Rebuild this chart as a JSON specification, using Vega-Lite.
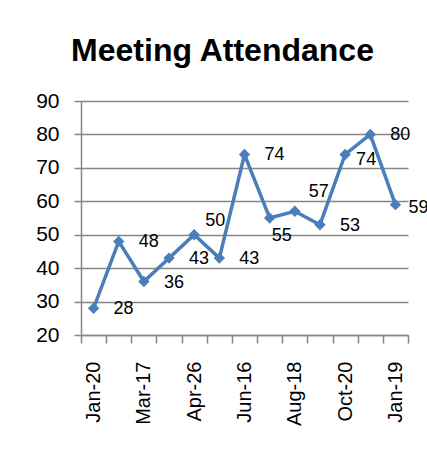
{
  "$schema": "https://vega.github.io/schema/vega-lite/v6.json",
  "autosize": "none",
  "width": 327,
  "height": 234,
  "padding": {"left": 81, "top": 101, "right": 19, "bottom": 114},
  "background": "white",
  "config": {
    "view": {"stroke": null},
    "font": "Liberation Sans"
  },
  "title": {
    "text": "Meeting Attendance",
    "font": "Liberation Sans",
    "fontSize": 32,
    "fontWeight": "bold",
    "color": "#000000",
    "anchor": "middle",
    "frame": "group",
    "dx": -22,
    "offset": -3,
    "baseline": "alphabetic"
  },
  "data": {
    "values": [
      {"date": "Jan-20", "attendance": 28},
      {"date": "Feb-17", "attendance": 48},
      {"date": "Mar-17", "attendance": 36},
      {"date": "Apr-07", "attendance": 43},
      {"date": "Apr-26", "attendance": 50},
      {"date": "May-19", "attendance": 43},
      {"date": "Jun-16", "attendance": 74},
      {"date": "Jul-21", "attendance": 55},
      {"date": "Aug-18", "attendance": 57},
      {"date": "Sep-22", "attendance": 53},
      {"date": "Oct-20", "attendance": 74},
      {"date": "Nov-17", "attendance": 80},
      {"date": "Jan-19", "attendance": 59}
    ]
  },
  "encoding": {
    "x": {
      "field": "date",
      "type": "ordinal",
      "sort": null,
      "bandPosition": 0.5,
      "scale": {"type": "band", "paddingInner": 0, "paddingOuter": 0},
      "axis": {
        "title": null,
        "tickBand": "extent",
        "labelAngle": -90,
        "labelAlign": "right",
        "labelBaseline": "middle",
        "labelFont": "Liberation Sans",
        "labelFontSize": 20,
        "labelColor": "#000000",
        "labelPadding": 18,
        "labelExpr": "indexof(['Jan-20','Mar-17','Apr-26','Jun-16','Aug-18','Oct-20','Jan-19'], datum.value) >= 0 ? datum.value : ''",
        "labelOverlap": false,
        "domainColor": "#868686",
        "domainWidth": 1.5,
        "tickColor": "#868686",
        "tickWidth": 1.5,
        "tickSize": 8,
        "grid": false
      }
    },
    "y": {
      "field": "attendance",
      "type": "quantitative",
      "scale": {"domain": [20, 90], "nice": false, "zero": false},
      "axis": {
        "title": null,
        "values": [20, 30, 40, 50, 60, 70, 80, 90],
        "labelFont": "Liberation Sans",
        "labelFontSize": 21,
        "labelColor": "#000000",
        "labelPadding": 15,
        "domainColor": "#868686",
        "domainWidth": 1.5,
        "tickColor": "#868686",
        "tickWidth": 1.5,
        "tickSize": 7,
        "grid": true,
        "gridColor": "#868686",
        "gridWidth": 1.5
      }
    }
  },
  "layer": [
    {
      "mark": {"type": "line", "color": "#4A7EBB", "strokeWidth": 3.5, "point": {"shape": "diamond", "size": 130, "color": "#4A7EBB", "filled": true, "opacity": 1}}
    },
    {
      "transform": [{"filter": "indexof(['Apr-26','Jul-21','Aug-18','Oct-20','Jan-19'], datum.date) < 0"}],
      "mark": {"type": "text", "align": "left", "baseline": "middle", "dx": 20, "dy": 1, "fontSize": 18, "font": "Liberation Sans", "color": "#000000"},
      "encoding": {"text": {"field": "attendance", "type": "quantitative"}}
    },
    {
      "transform": [{"filter": "datum.date == 'Apr-26'"}],
      "mark": {"type": "text", "align": "left", "baseline": "middle", "dx": 11, "dy": -14, "fontSize": 18, "font": "Liberation Sans", "color": "#000000"},
      "encoding": {"text": {"field": "attendance", "type": "quantitative"}}
    },
    {
      "transform": [{"filter": "datum.date == 'Jul-21'"}],
      "mark": {"type": "text", "align": "left", "baseline": "middle", "dx": 2, "dy": 18, "fontSize": 18, "font": "Liberation Sans", "color": "#000000"},
      "encoding": {"text": {"field": "attendance", "type": "quantitative"}}
    },
    {
      "transform": [{"filter": "datum.date == 'Aug-18'"}],
      "mark": {"type": "text", "align": "left", "baseline": "middle", "dx": 14, "dy": -19, "fontSize": 18, "font": "Liberation Sans", "color": "#000000"},
      "encoding": {"text": {"field": "attendance", "type": "quantitative"}}
    },
    {
      "transform": [{"filter": "datum.date == 'Oct-20'"}],
      "mark": {"type": "text", "align": "left", "baseline": "middle", "dx": 11, "dy": 6, "fontSize": 18, "font": "Liberation Sans", "color": "#000000"},
      "encoding": {"text": {"field": "attendance", "type": "quantitative"}}
    },
    {
      "transform": [{"filter": "datum.date == 'Jan-19'"}],
      "mark": {"type": "text", "align": "left", "baseline": "middle", "dx": 13, "dy": 3, "fontSize": 18, "font": "Liberation Sans", "color": "#000000"},
      "encoding": {"text": {"field": "attendance", "type": "quantitative"}}
    }
  ]
}
